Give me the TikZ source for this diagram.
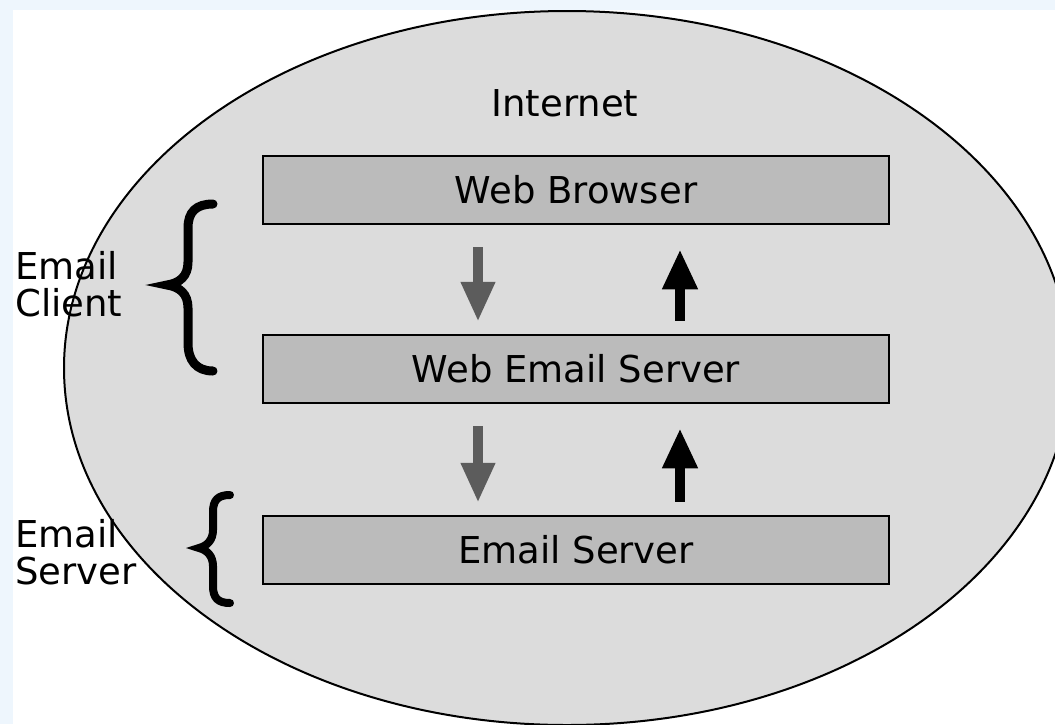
\documentclass[tikz,border=0pt]{standalone}
\usepackage{fontspec}
\setmainfont{DejaVu Sans}
\usetikzlibrary{arrows.meta, positioning}
\definecolor{pageblue}{HTML}{EEF6FD}
\definecolor{cloudgray}{HTML}{DCDCDC}
\definecolor{boxgray}{HTML}{BBBBBB}
\definecolor{arrgray}{HTML}{5C5C5C}
\tikzstyle{layer} = [rectangle, draw, fill=boxgray, line width=2.5pt, minimum width=626pt, minimum height=68pt, inner sep=0pt]
\tikzstyle{txt} = [inner sep=0pt, align=left]
\tikzstyle{downarr} = [draw=arrgray, line width=10pt, -{Triangle[length=40pt, width=32pt]}, shorten <=22pt, shorten >=12pt]
\tikzstyle{uparr} = [draw, line width=10pt, -{Triangle[length=40pt, width=33pt]}, shorten <=13pt, shorten >=24pt]
\tikzstyle{brace} = [draw, line width=9pt, line cap=round]

\begin{document}
\begin{tikzpicture}[x=1pt, y=-1pt, font=\fontsize{37}{37}\selectfont]
			\useasboundingbox (0,0) rectangle (1055,724);
			\fill [white] (0,0) rectangle (1055,724);
			\fill [pageblue] (0,0) rectangle (1055,10);
			\fill [pageblue] (0,0) rectangle (13,724);
			\begin{scope}
				\clip (0,0) rectangle (1055,724);
				\draw [fill=cloudgray, line width=2pt] (567,368) ellipse [x radius=503, y radius=357];
			\end{scope}

			\node [txt] (inet) at (565,103) {Internet};
			\node [layer] (browser) at (576,190) {Web Browser};
			\node [layer] (webmail) at (576,369) {Web Email Server};
			\node [layer] (mailsrv) at (576,550) {Email Server};
			\node [txt, anchor=north west] (client) at (15,251) {Email\\Client};
			\node [txt, anchor=north west] (server) at (15,519) {Email\\Server};

			\path [downarr] ([xshift=-98pt]browser.south) -- ([xshift=-98pt]webmail.north);
			\path [uparr] ([xshift=104pt]webmail.north) -- ([xshift=104pt]browser.south);
			\path [downarr] ([xshift=-98pt]webmail.south) -- ([xshift=-98pt]mailsrv.north);
			\path [uparr] ([xshift=104pt]mailsrv.north) -- ([xshift=104pt]webmail.south);

			\path [brace] (213,204) .. controls (196,204) and (188,212) .. (188,228) -- (188,262)
				.. controls (188,276) and (180,283) .. (167,285)
				.. controls (180,287) and (188,294) .. (188,308) -- (188,343)
				.. controls (188,360) and (196,371) .. (213,371);
			\path [brace, line width=8pt] (230,495) .. controls (218,495) and (213,500) .. (213,512) -- (213,530)
				.. controls (213,540) and (207,546) .. (199,548)
				.. controls (207,550) and (213,556) .. (213,566) -- (213,586)
				.. controls (213,598) and (218,603) .. (230,603);
		\end{tikzpicture}
\end{document}
